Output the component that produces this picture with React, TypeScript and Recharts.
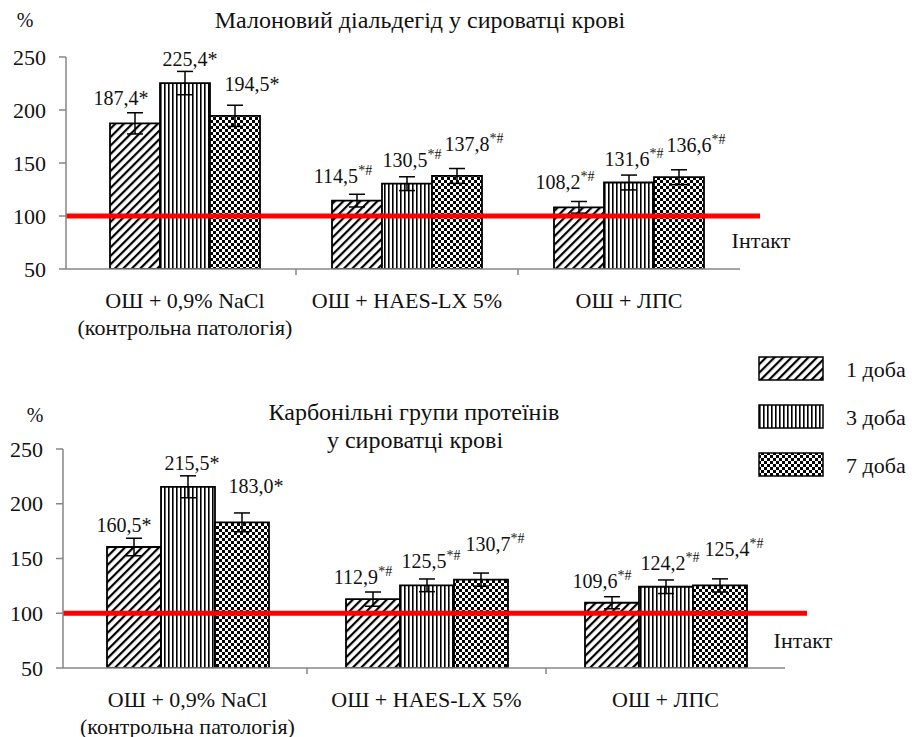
import React from "react";
import {
  BarChart,
  Bar,
  XAxis,
  YAxis,
  ErrorBar,
  LabelList,
  ReferenceLine,
  Legend,
} from "recharts";

// ---------- data ----------
const categories = ["ОШ + 0,9% NaCl|(контрольна патологія)", "ОШ + HAES-LX 5%", "ОШ + ЛПС"];
const seriesNames = ["1 доба", "3 доба", "7 доба"];
const yTicks = [50, 100, 150, 200, 250];

const mdaDay1 = [187.4, 114.5, 108.2];
const mdaDay3 = [225.4, 130.5, 131.6];
const mdaDay7 = [194.5, 137.8, 136.6];
const mdaErr1 = [10, 6, 5.5];
const mdaErr3 = [11, 6.5, 7];
const mdaErr7 = [10, 7, 7];

const carbDay1 = [160.5, 112.9, 109.6];
const carbDay3 = [215.5, 125.5, 124.2];
const carbDay7 = [183.0, 130.7, 125.4];
const carbErr1 = [8, 6.5, 5.5];
const carbErr3 = [10, 5.8, 6.2];
const carbErr7 = [8.6, 6, 6];

const marks = ["*", "*#", "*#"];
const intactValue = 100;

const buildRows = (d1: number[], d3: number[], d7: number[], e1: number[], e3: number[], e7: number[]) =>
  categories.map((c, i) => ({
    name: c,
    d1: d1[i],
    d3: d3[i],
    d7: d7[i],
    e1: e1[i],
    e3: e3[i],
    e7: e7[i],
    mark: marks[i],
  }));

const mdaRows = buildRows(mdaDay1, mdaDay3, mdaDay7, mdaErr1, mdaErr3, mdaErr7);
const carbRows = buildRows(carbDay1, carbDay3, carbDay7, carbErr1, carbErr3, carbErr7);

// ---------- style ----------
const FONT = "Liberation Serif, DejaVu Serif, serif";
const AXIS_GREY = "#868686";

const Patterns = ({ p }: { p: string }) => (
  <defs>
    <pattern id={`${p}-diag`} width="6" height="6" patternUnits="userSpaceOnUse" patternTransform="rotate(45)">
      <rect width="6" height="6" fill="#fff" />
      <rect x="0" y="0" width="2.2" height="6" fill="#000" />
    </pattern>
    <pattern id={`${p}-vert`} width="4" height="4" patternUnits="userSpaceOnUse">
      <rect width="4" height="4" fill="#fff" />
      <rect x="0" y="0" width="1.6" height="4" fill="#000" />
    </pattern>
    <pattern id={`${p}-check`} width="6" height="6" patternUnits="userSpaceOnUse">
      <rect width="6" height="6" fill="#fff" />
      <rect x="0" y="0" width="3" height="3" fill="#000" />
      <rect x="3" y="3" width="3" height="3" fill="#000" />
    </pattern>
  </defs>
);

const makeValueLabel = (dx: number, dy: number) => (props: any) => {
  const { x, y, width, value, index } = props;
  if (value == null) return null;
  const txt = Number(value).toFixed(1).replace(".", ",");
  const mark = marks[index] || "";
  const cx = Number(x) + Number(width) / 2 + dx;
  const cy = Number(y) + dy;
  const sup = mark.includes("#");
  return (
    <text x={cx} y={cy} textAnchor="middle" dominantBaseline="central" fontFamily={FONT} fontSize={20} fill="#111">
      {txt}
      {sup ? (
        <tspan fontSize={14} dy={-6}>
          {mark}
        </tspan>
      ) : (
        <tspan>{mark}</tspan>
      )}
    </text>
  );
};

const CategoryTick = (props: any) => {
  const { x, y, payload, index } = props;
  const lines = String(payload.value).split("|");
  const off = payload && payload.offset ? payload.offset : 0;
  return (
    <g>
      {index > 0 && off > 0 ? (
        <line x1={x - off} x2={x - off} y1={y - 8} y2={y - 2} stroke={AXIS_GREY} strokeWidth={1.5} />
      ) : null}
      {lines.map((l, i) => (
        <text key={i} x={x} y={y + 23 + i * 27} textAnchor="middle" dominantBaseline="central" fontFamily={FONT} fontSize={22} fill="#111">
          {l}
        </text>
      ))}
    </g>
  );
};

const YTick = (props: any) => {
  const { x, y, payload } = props;
  return (
    <text x={x} y={y} textAnchor="end" dominantBaseline="central" fontFamily={FONT} fontSize={22} fill="#111">
      {payload.value}
    </text>
  );
};

const makeIntactShape = (extend: number, labelDx: number, labelDy: number) => (props: any) => {
  const { x1, y1, x2, y2 } = props;
  return (
    <g>
      <line x1={x1} y1={y1} x2={x2 + extend} y2={y2} stroke="#ff0000" strokeWidth={5} />
      <text x={x2 + extend + labelDx} y={y2 + labelDy} textAnchor="middle" dominantBaseline="central" fontFamily={FONT} fontSize={22} fill="#111">
        Інтакт
      </text>
    </g>
  );
};

const LegendContent = () => {
  const fills = ["lg-diag", "lg-vert", "lg-check"];
  return (
    <svg width={170} height={135} style={{ display: "block" }}>
      <Patterns p="lg" />
      {seriesNames.map((n, i) => (
        <g key={n}>
          <rect x={4} y={7 + i * 48} width={64} height={23} fill={`url(#${fills[i]})`} stroke="#000" strokeWidth={1.5} />
          <text x={91} y={19 + i * 48} dominantBaseline="central" fontFamily={FONT} fontSize={22} fill="#111">
            {n}
          </text>
        </g>
      ))}
    </svg>
  );
};

type PanelProps = {
  rows: any[];
  p: string;
  width: number;
  height: number;
  margin: { top: number; right: number; bottom: number; left: number };
  yWidth: number;
  xHeight: number;
  padLeft: number;
  barSize: number;
  labelOffsets: [number, number][];
  extend: number;
  intactDx: number;
  intactDy: number;
  withLegend?: boolean;
};

const Panel = (pp: PanelProps) => {
  const keys = ["d1", "d3", "d7"];
  const errs = ["e1", "e3", "e7"];
  const fills = [`${pp.p}-diag`, `${pp.p}-vert`, `${pp.p}-check`];
  return (
    <BarChart
      width={pp.width}
      height={pp.height}
      data={pp.rows}
      margin={pp.margin}
      barGap={0}
      barSize={pp.barSize}
    >
      <Patterns p={pp.p} />
      <XAxis
        dataKey="name"
        type="category"
        height={pp.xHeight}
        padding={{ left: pp.padLeft, right: 0 }}
        axisLine={{ stroke: AXIS_GREY, strokeWidth: 1.5 }}
        tickLine={false}
        tick={<CategoryTick />}
        interval={0}
      />
      <YAxis
        type="number"
        domain={[50, 250]}
        ticks={yTicks}
        width={pp.yWidth}
        tickSize={7}
        tickMargin={13}
        axisLine={{ stroke: AXIS_GREY, strokeWidth: 1.5 }}
        tickLine={{ stroke: AXIS_GREY, strokeWidth: 1.5 }}
        tick={<YTick />}
        allowDataOverflow
      />
      {keys.map((k, i) => (
        <Bar
          key={k}
          dataKey={k}
          name={seriesNames[i]}
          fill={`url(#${fills[i]})`}
          stroke="#000"
          strokeWidth={1.8}
          isAnimationActive={false}
        >
          <ErrorBar dataKey={errs[i]} width={8} stroke="#000" strokeWidth={1.5} direction="y" />
          <LabelList dataKey={k} content={makeValueLabel(pp.labelOffsets[i][0], pp.labelOffsets[i][1])} />
        </Bar>
      ))}
      <ReferenceLine
        y={intactValue}
        stroke="#ff0000"
        strokeWidth={5}
        shape={makeIntactShape(pp.extend, pp.intactDx, pp.intactDy)}
      />
      {pp.withLegend ? (
        <Legend
          layout="vertical"
          align="center"
          verticalAlign="middle"
          content={<LegendContent />}
          wrapperStyle={{ position: "absolute", left: 755, top: 10, width: 170, height: 135 }}
        />
      ) : null}
    </BarChart>
  );
};

export default function App() {
  return (
    <div style={{ position: "absolute", left: 0, top: 0, width: 920, height: 737, background: "#fff", fontFamily: FONT }}>
      <div style={{ position: "absolute", left: 0, top: 0 }}>
        <Panel
          rows={mdaRows}
          p="t"
          width={920}
          height={340}
          margin={{ top: 57, right: 180, bottom: 1, left: 10 }}
          yWidth={56}
          xHeight={70}
          padLeft={8}
          barSize={50}
          labelOffsets={[[-14, -25], [5, -24], [17, -32]]}
          extend={20}
          intactDx={1}
          intactDy={24}
        />
      </div>
      <div style={{ position: "absolute", left: 0, top: 340 }}>
        <Panel
          rows={carbRows}
          p="b"
          width={920}
          height={397}
          margin={{ top: 109, right: 135, bottom: 0, left: 10 }}
          yWidth={53}
          xHeight={69}
          padLeft={5}
          barSize={54}
          labelOffsets={[[-10, -22], [4, -24], [14, -36]]}
          extend={22}
          intactDx={-4}
          intactDy={27}
          withLegend
        />
      </div>
      <svg width={920} height={737} style={{ position: "absolute", left: 0, top: 0, pointerEvents: "none" }}>
        <text x={25} y={20} textAnchor="middle" dominantBaseline="central" fontFamily={FONT} fontSize={20} fill="#111">%</text>
        <text x={420} y={20} textAnchor="middle" dominantBaseline="central" fontFamily={FONT} fontSize={24} fill="#111">
          Малоновий діальдегід у сироватці крові
        </text>
        <text x={35} y={415} textAnchor="middle" dominantBaseline="central" fontFamily={FONT} fontSize={20} fill="#111">%</text>
        <text x={414} y={412} textAnchor="middle" dominantBaseline="central" fontFamily={FONT} fontSize={24} fill="#111">
          Карбонільні групи протеїнів
        </text>
        <text x={415} y={440} textAnchor="middle" dominantBaseline="central" fontFamily={FONT} fontSize={24} fill="#111">
          у сироватці крові
        </text>
      </svg>
    </div>
  );
}
